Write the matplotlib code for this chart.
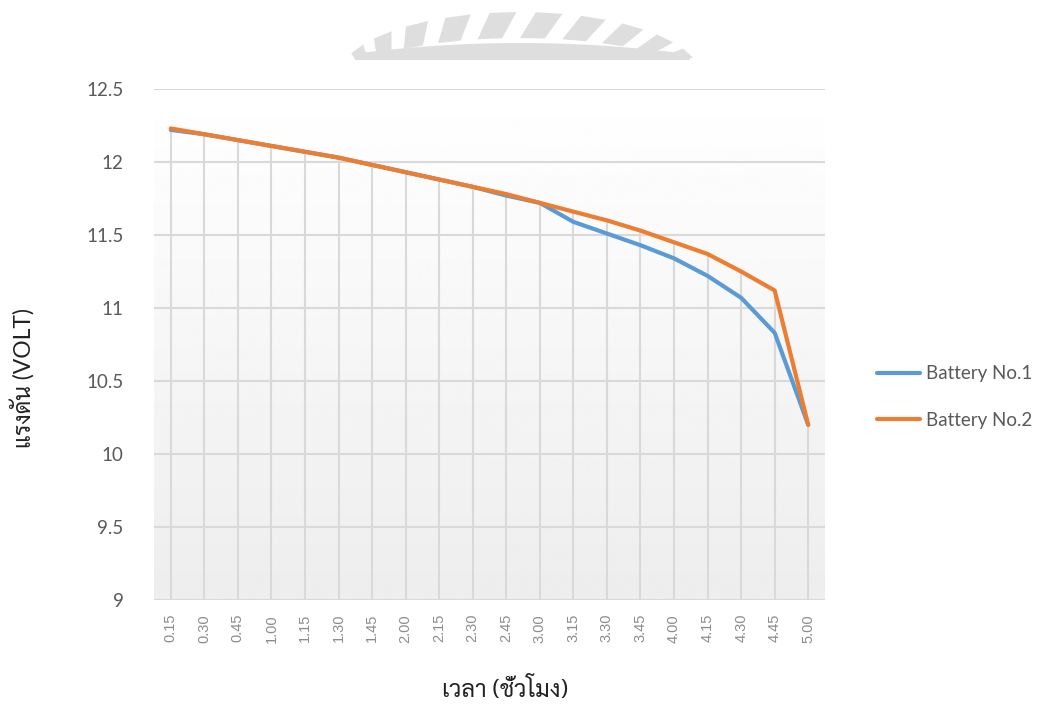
import matplotlib
matplotlib.use("Agg")
import matplotlib.pyplot as plt
import numpy as np
from matplotlib import font_manager as fm
from matplotlib.patches import Polygon, Rectangle
from fontTools.ttLib import TTFont

# data
hours = ["0.15", "0.30", "0.45", "1.00", "1.15", "1.30", "1.45", "2.00", "2.15", "2.30",
         "2.45", "3.00", "3.15", "3.30", "3.45", "4.00", "4.15", "4.30", "4.45", "5.00"]
battery1 = [12.22, 12.19, 12.15, 12.11, 12.07, 12.03, 11.98, 11.93, 11.88, 11.83,
            11.77, 11.72, 11.59, 11.51, 11.43, 11.34, 11.22, 11.07, 10.83, 10.20]
battery2 = [12.23, 12.19, 12.15, 12.11, 12.07, 12.03, 11.98, 11.93, 11.88, 11.83,
            11.78, 11.72, 11.66, 11.60, 11.53, 11.45, 11.37, 11.25, 11.12, 10.20]
yticks = [9, 9.5, 10, 10.5, 11, 11.5, 12, 12.5]
ytick_labels = ["9", "9.5", "10", "10.5", "11", "11.5", "12", "12.5"]

BLUE, ORANGE = "#5b9bd5", "#ed7d31"
GRID, TXT, TICK = "#d9d9d9", "#595959", "#8c8c8c"
W, H = 1052, 704


def thai_fonts():
    found = []
    for f in fm.fontManager.ttflist:
        try:
            cmap = TTFont(f.fname, fontNumber=0, lazy=True).getBestCmap()
        except Exception:
            continue
        if cmap and 0x0E40 in cmap and f.name not in found:
            found.append(f.name)
    return found


available = thai_fonts()
preferred = ["TH Sarabun New", "Sarabun", "Noto Serif Thai", "FreeSerif", "Loma"]
THAI = [n for n in preferred if n in available] + [n for n in available if n not in preferred]
LATIN = "Lato"

fig = plt.figure(figsize=(W / 100, H / 100), dpi=100)


def px(x, y):
    return (x / W, 1 - y / H)


# faint watermark arc peeking out above the chart
def ell(cx, cy, rx, ry, ang):
    return cx + rx * np.cos(ang), cy - ry * np.sin(ang)


WM = "#dedede"
for i in range(10):
    a0 = np.radians(163 - i * 14.6)
    a1 = a0 - np.radians(8.5)
    sh = np.radians(5)
    pts = [ell(520, 78, 168, 40, a0), ell(520, 78, 168, 40, a1),
           ell(520, 78, 182, 66, a1 - sh), ell(520, 78, 182, 66, a0 - sh)]
    fig.add_artist(Polygon([px(*p) for p in pts], closed=True, color=WM, lw=0, zorder=1))
bx = np.linspace(355, 690, 60)
band = [px(x, 43 + 11 * ((x - 520) / 167) ** 2) for x in bx] + [px(690, 60), px(355, 60)]
fig.add_artist(Polygon(band, closed=True, color=WM, lw=0, zorder=1))
fig.add_artist(Rectangle(px(300, 88), 500 / W, 28 / H, color="white", lw=0, zorder=2))

ax = fig.add_axes([154 / W, 104 / H, 671 / W, 511 / H])

# soft vertical gradient like the Excel plot area
grad = np.linspace(0.93, 1.0, 256).reshape(-1, 1)
ax.imshow(grad, cmap="gray", vmin=0, vmax=1, aspect="auto", origin="lower",
          extent=(-0.5, len(hours) - 0.5, 9, 12.5), zorder=0)

x = np.arange(len(hours))
for v in yticks:
    ax.axhline(v, color=GRID, lw=1.5, zorder=1)
ax.vlines(x, 9, np.maximum(battery1, battery2), color=GRID, lw=1.5, zorder=1)

ax.plot(x, battery1, color=BLUE, lw=3, solid_capstyle="round", label="Battery No.1", zorder=3)
ax.plot(x, battery2, color=ORANGE, lw=3, solid_capstyle="round", label="Battery No.2", zorder=4)

ax.set_xlim(-0.5, len(hours) - 0.5)
ax.set_ylim(9, 12.5)
ax.set_yticks(yticks, ytick_labels, fontsize=13.5, color=TXT, family=LATIN)
ax.set_xticks(x, hours, rotation=90, fontsize=10.5, color=TICK, family="Liberation Sans")
ax.tick_params(axis="y", length=0, pad=22)
ax.tick_params(axis="x", length=0, pad=10)
for s in ax.spines.values():
    s.set_visible(False)

fig.text(*px(505, 690), "เวลา (ชั่วโมง)", fontsize=17, color="#222222",
         family=THAI + [LATIN], ha="center", va="center")
fig.text(*px(22, 378), "แรงดัน (VOLT)", fontsize=16.5, color="#222222",
         family=[LATIN] + THAI, ha="center", va="center", rotation=90)

fig.legend(loc="center left", bbox_to_anchor=px(860, 397), frameon=False,
           prop={"family": LATIN, "size": 13.5}, labelcolor=TXT, handlelength=2.3,
           handletextpad=0.3, labelspacing=1.55)

fig.savefig("out.png", dpi=100)
